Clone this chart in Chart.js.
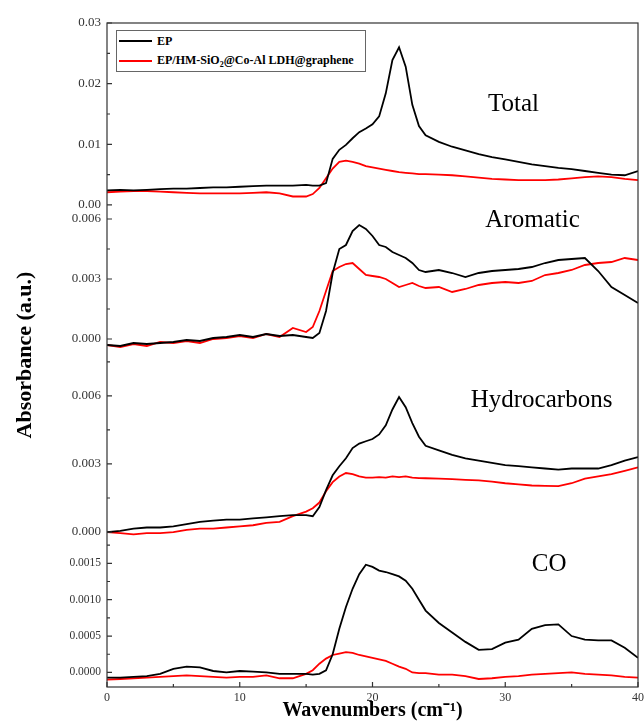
<!DOCTYPE html>
<html>
<head>
<meta charset="utf-8">
<script src="https://cdn.jsdelivr.net/npm/chart.js@4.4.1/dist/chart.umd.min.js"></script>
<style>
  html, body { margin: 0; padding: 0; background: #fff; }
  #wrap { position: relative; width: 644px; height: 721px; }
  #legend {
    position: absolute; left: 116px; top: 30px; width: 250px; height: 42px;
    border: 1px solid #666; box-sizing: border-box; background: #fff;
    font: bold 12px 'Liberation Serif', 'Times New Roman', serif; color: #000;
  }
  #legend .item { position: absolute; left: 0; height: 16px; display: flex; align-items: center; white-space: nowrap; }
  #legend .swatch { display: inline-block; width: 33px; height: 2px; margin-left: 2px; margin-right: 5px; }
  #legend sub { font-size: 8px; }
</style>
</head>
<body>
<div id="wrap">
  <canvas id="plot" width="644" height="721"></canvas>
  <div id="legend"></div>
</div>
<script>
// x values (wavenumbers)
const wavenumbers = [0,1,2,3,4,5,6,7,8,9,10,11,12,13,14,15,
  15.5,16,16.5,17,17.5,18,18.5,19,19.5,20,20.5,21,21.5,22,22.5,23,23.5,24,
  25,26,27,28,29,30,31,32,33,34,35,36,37,38,39,40];

const seriesNames = ['EP', 'EP/HM-SiO2@Co-Al LDH@graphene'];
const seriesColors = ['#000000', '#ff0000'];

// Total
const totalEP = [2.4e-3,2.5e-3,2.4e-3,2.5e-3,2.6e-3,2.7e-3,2.7e-3,2.8e-3,2.9e-3,2.9e-3,3.0e-3,3.1e-3,3.2e-3,3.2e-3,3.2e-3,3.3e-3,
  3.2e-3,3.2e-3,3.6e-3,7.6e-3,9.1e-3,9.9e-3,11.0e-3,12.0e-3,12.6e-3,13.3e-3,14.6e-3,18.4e-3,23.9e-3,26.0e-3,22.8e-3,16.5e-3,13.0e-3,11.5e-3,
  10.4e-3,9.6e-3,9.0e-3,8.4e-3,7.9e-3,7.5e-3,7.1e-3,6.7e-3,6.4e-3,6.1e-3,5.9e-3,5.6e-3,5.3e-3,5.0e-3,4.9e-3,5.6e-3];
const totalComp = [2.1e-3,2.2e-3,2.3e-3,2.3e-3,2.2e-3,2.1e-3,2.0e-3,1.9e-3,1.9e-3,1.9e-3,1.9e-3,2.0e-3,2.1e-3,1.9e-3,1.4e-3,1.4e-3,
  1.8e-3,2.8e-3,4.4e-3,6.0e-3,7.1e-3,7.3e-3,7.1e-3,6.8e-3,6.4e-3,6.2e-3,6.0e-3,5.8e-3,5.6e-3,5.4e-3,5.3e-3,5.2e-3,5.1e-3,5.1e-3,
  5.0e-3,4.9e-3,4.7e-3,4.5e-3,4.3e-3,4.2e-3,4.1e-3,4.1e-3,4.1e-3,4.2e-3,4.4e-3,4.6e-3,4.7e-3,4.6e-3,4.3e-3,4.1e-3];

// Aromatic
const aromaticEP = [-0.3e-3,-0.35e-3,-0.2e-3,-0.25e-3,-0.2e-3,-0.15e-3,-0.05e-3,-0.1e-3,0.05e-3,0.1e-3,0.2e-3,0.1e-3,0.25e-3,0.15e-3,0.2e-3,0.1e-3,
  0.05e-3,0.3e-3,1.4e-3,3.3e-3,4.5e-3,4.7e-3,5.4e-3,5.7e-3,5.5e-3,5.15e-3,4.7e-3,4.6e-3,4.35e-3,4.2e-3,4.05e-3,3.8e-3,3.45e-3,3.35e-3,
  3.45e-3,3.3e-3,3.1e-3,3.3e-3,3.4e-3,3.45e-3,3.5e-3,3.6e-3,3.8e-3,3.95e-3,4.0e-3,4.05e-3,3.4e-3,2.6e-3,2.2e-3,1.8e-3];
const aromaticComp = [-0.3e-3,-0.4e-3,-0.25e-3,-0.35e-3,-0.15e-3,-0.2e-3,-0.1e-3,-0.2e-3,0.0,0.05e-3,0.15e-3,0.05e-3,0.25e-3,0.1e-3,0.55e-3,0.35e-3,
  0.6e-3,1.4e-3,2.4e-3,3.4e-3,3.6e-3,3.75e-3,3.8e-3,3.5e-3,3.2e-3,3.15e-3,3.1e-3,3.0e-3,2.8e-3,2.6e-3,2.7e-3,2.8e-3,2.65e-3,2.55e-3,
  2.6e-3,2.35e-3,2.5e-3,2.7e-3,2.8e-3,2.85e-3,2.8e-3,2.9e-3,3.2e-3,3.3e-3,3.45e-3,3.7e-3,3.8e-3,3.85e-3,4.05e-3,3.95e-3];

// Hydrocarbons
const hydroEP = [0.0,0.05e-3,0.15e-3,0.2e-3,0.2e-3,0.25e-3,0.35e-3,0.45e-3,0.5e-3,0.55e-3,0.55e-3,0.6e-3,0.65e-3,0.7e-3,0.75e-3,0.75e-3,
  0.7e-3,1.1e-3,1.85e-3,2.5e-3,2.9e-3,3.25e-3,3.7e-3,3.9e-3,4.0e-3,4.1e-3,4.3e-3,4.7e-3,5.4e-3,5.95e-3,5.5e-3,4.8e-3,4.2e-3,3.8e-3,
  3.6e-3,3.4e-3,3.25e-3,3.15e-3,3.05e-3,2.95e-3,2.9e-3,2.85e-3,2.8e-3,2.75e-3,2.8e-3,2.8e-3,2.8e-3,2.95e-3,3.15e-3,3.3e-3];
const hydroComp = [0.0,-0.05e-3,-0.1e-3,-0.05e-3,-0.05e-3,0.0,0.1e-3,0.15e-3,0.15e-3,0.2e-3,0.25e-3,0.3e-3,0.4e-3,0.45e-3,0.7e-3,0.9e-3,
  1.05e-3,1.3e-3,1.8e-3,2.2e-3,2.45e-3,2.6e-3,2.55e-3,2.45e-3,2.4e-3,2.4e-3,2.42e-3,2.4e-3,2.45e-3,2.42e-3,2.45e-3,2.4e-3,2.38e-3,2.37e-3,
  2.35e-3,2.33e-3,2.3e-3,2.28e-3,2.22e-3,2.15e-3,2.1e-3,2.05e-3,2.03e-3,2.02e-3,2.15e-3,2.35e-3,2.45e-3,2.55e-3,2.7e-3,2.85e-3];

// CO
const coEP = [-0.07e-3,-0.07e-3,-0.06e-3,-0.05e-3,-0.02e-3,0.05e-3,0.08e-3,0.07e-3,0.02e-3,0.0,0.02e-3,0.01e-3,0.0,-0.02e-3,-0.02e-3,-0.02e-3,
  -0.03e-3,-0.02e-3,0.03e-3,0.25e-3,0.6e-3,0.9e-3,1.15e-3,1.35e-3,1.48e-3,1.45e-3,1.4e-3,1.38e-3,1.35e-3,1.32e-3,1.26e-3,1.15e-3,1.0e-3,0.85e-3,
  0.68e-3,0.55e-3,0.42e-3,0.31e-3,0.32e-3,0.41e-3,0.45e-3,0.6e-3,0.65e-3,0.66e-3,0.5e-3,0.45e-3,0.44e-3,0.44e-3,0.34e-3,0.2e-3];
const coComp = [-0.1e-3,-0.09e-3,-0.08e-3,-0.07e-3,-0.06e-3,-0.05e-3,-0.04e-3,-0.05e-3,-0.06e-3,-0.07e-3,-0.06e-3,-0.06e-3,-0.04e-3,-0.08e-3,-0.08e-3,-0.02e-3,
  0.03e-3,0.12e-3,0.19e-3,0.24e-3,0.26e-3,0.28e-3,0.27e-3,0.24e-3,0.22e-3,0.2e-3,0.18e-3,0.16e-3,0.12e-3,0.08e-3,0.05e-3,0.0,-0.01e-3,-0.01e-3,
  -0.03e-3,-0.03e-3,-0.05e-3,-0.09e-3,-0.08e-3,-0.06e-3,-0.05e-3,-0.03e-3,-0.02e-3,-0.01e-3,0.0,-0.02e-3,-0.03e-3,-0.04e-3,-0.06e-3,-0.07e-3];

const serif = "'Liberation Serif', 'Times New Roman', serif";

// panels: axis id, series, label and where the label sits (data coords)
const panels = [
  { id: 'yTot', name: 'Total',        ep: totalEP,    comp: totalComp,    lx: 28.7, ly: 0.0166 },
  { id: 'yAro', name: 'Aromatic',     ep: aromaticEP, comp: aromaticComp, lx: 28.5, ly: 0.00595 },
  { id: 'yHC',  name: 'Hydrocarbons', ep: hydroEP,    comp: hydroComp,    lx: 27.4, ly: 0.00582 },
  { id: 'yCO',  name: 'CO',           ep: coEP,       comp: coComp,       lx: 32.0, ly: 0.00148 }
];

function toPoints(arr) {
  return wavenumbers.map((x, i) => ({ x: x, y: arr[i] }));
}

const datasets = [];
panels.forEach(p => {
  [p.ep, p.comp].forEach((arr, k) => {
    datasets.push({
      label: seriesNames[k],
      data: toPoints(arr),
      yAxisID: p.id,
      borderColor: seriesColors[k],
      borderWidth: 1.8,
      pointRadius: 0,
      tension: 0,
      fill: false
    });
  });
});

function panelAxis(min, max, step, weight, digits, fontSize) {
  return {
    type: 'linear', position: 'left', stack: 'panels', stackWeight: weight,
    min: min, max: max,
    ticks: {
      stepSize: step, includeBounds: false, padding: 6, color: '#333',
      font: { family: serif, size: fontSize, lineHeight: 1 },
      callback: v => Number(v).toFixed(digits)
    },
    grid: { display: false, drawTicks: false },
    border: { display: false },
    afterFit(s) { s.width = 40; }
  };
}

// frame, inward tick marks and panel captions
const decor = {
  id: 'decor',
  afterDraw(chart) {
    const ctx = chart.ctx;
    const a = chart.chartArea;
    ctx.save();
    ctx.strokeStyle = '#333';
    ctx.lineWidth = 1.2;
    ctx.strokeRect(a.left, a.top, a.right - a.left, a.bottom - a.top);

    ctx.beginPath();
    panels.forEach(p => {
      const s = chart.scales[p.id];
      const major = s.ticks.map(t => t.value);
      const half = (major[1] - major[0]) / 2;
      for (let k = -1; k <= 2 * major.length; k++) {
        const v = major[0] + k * half;
        if (v < s.min || v > s.max) continue;
        const y = s.getPixelForValue(v);
        const len = k % 2 === 0 ? 5 : 3;
        ctx.moveTo(a.left, y);
        ctx.lineTo(a.left + len, y);
      }
    });
    const xs = chart.scales.x;
    const xmaj = xs.ticks.map(t => t.value);
    const xhalf = (xmaj[1] - xmaj[0]) / 2;
    for (let k = 0; k <= 2 * (xmaj.length - 1); k++) {
      const x = xs.getPixelForValue(xmaj[0] + k * xhalf);
      const len = k % 2 === 0 ? 5 : 3;
      ctx.moveTo(x, a.bottom);
      ctx.lineTo(x, a.bottom - len);
    }
    ctx.stroke();

    ctx.fillStyle = '#000';
    ctx.font = '25px ' + serif;
    ctx.textAlign = 'left';
    ctx.textBaseline = 'middle';
    panels.forEach(p => {
      ctx.fillText(p.name, xs.getPixelForValue(p.lx), chart.scales[p.id].getPixelForValue(p.ly));
    });
    ctx.restore();
  }
};

const ctx = document.getElementById('plot').getContext('2d');
const myChart = new Chart(ctx, {
  type: 'line',
  data: { datasets: datasets },
  options: {
    responsive: false,
    maintainAspectRatio: false,
    animation: false,
    layout: { padding: { left: 14, top: 23, right: 6, bottom: 0 } },
    plugins: { legend: { display: false }, tooltip: { enabled: false } },
    scales: {
      x: {
        type: 'linear', position: 'bottom', min: 0, max: 40,
        ticks: { stepSize: 10, padding: 5, color: '#333', maxRotation: 0,
                 font: { family: serif, size: 12, lineHeight: 1 } },
        grid: { display: false, drawTicks: false },
        border: { display: false },
        title: { display: true, text: 'Wavenumbers (cm\u207B\u00B9)', color: '#000',
                 font: { family: serif, size: 20, weight: 'bold', lineHeight: 1 },
                 padding: { top: 0, bottom: 0 } },
        // keep the "40" label from shrinking the plot
        afterFit(s) { s.height = 34; s.paddingLeft = 0; s.paddingRight = 0; }
      },
      // defined bottom to top: later stacked axes are placed higher
      yCO:  panelAxis(-0.0002, 0.00182, 0.0005, 147, 4, 11.5),
      yHC:  panelAxis(-0.00035, 0.0078, 0.003, 185, 3, 13),
      yAro: panelAxis(-0.0008, 0.00655, 0.003, 147, 3, 13),
      yTot: panelAxis(-0.0005, 0.03, 0.01, 185, 2, 13),
      yTitle: {
        type: 'linear', position: 'left', weight: 10, min: 0, max: 1,
        ticks: { display: false },
        grid: { display: false, drawTicks: false },
        border: { display: false },
        title: { display: true, text: 'Absorbance (a.u.)', color: '#000',
                 font: { family: serif, size: 22, weight: 'bold', lineHeight: 1 },
                 padding: { top: 0, bottom: 0 } },
        afterFit(s) { s.width = 53; }
      }
    }
  },
  plugins: [decor]
});

// legend box drawn in HTML over the plot
const legend = document.getElementById('legend');
seriesNames.forEach((name, k) => {
  const item = document.createElement('div');
  item.className = 'item';
  item.style.top = (2 + k * 20) + 'px';
  const sw = document.createElement('span');
  sw.className = 'swatch';
  sw.style.background = seriesColors[k];
  const txt = document.createElement('span');
  txt.innerHTML = name.replace('SiO2', 'SiO<sub>2</sub>');
  item.appendChild(sw);
  item.appendChild(txt);
  legend.appendChild(item);
});
</script>
</body>
</html>
